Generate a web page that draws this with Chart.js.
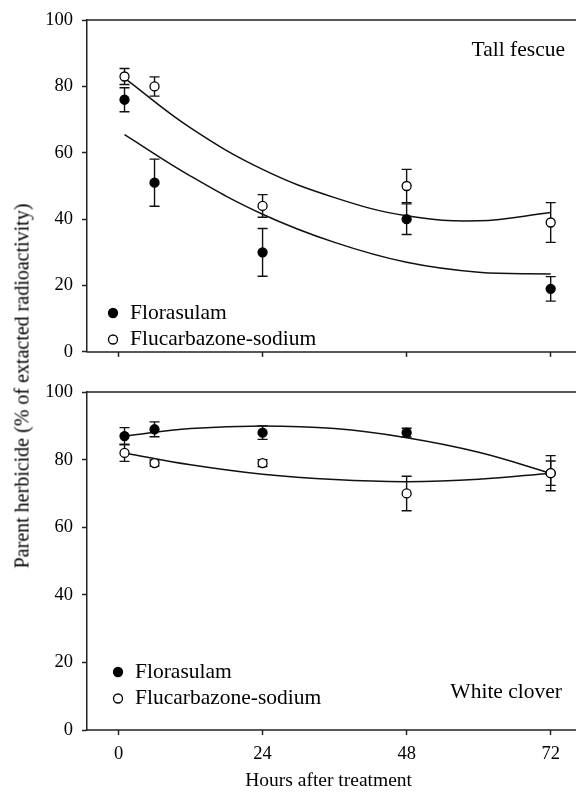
<!DOCTYPE html>
<html>
<head>
<meta charset="utf-8">
<script src="https://cdn.jsdelivr.net/npm/chart.js@4.4.1/dist/chart.umd.min.js"></script>
<style>
  body { margin: 0; background: #fff; }
  #wrap { position: relative; width: 576px; height: 793px; font-family: "Liberation Serif", serif; }
  canvas { position: absolute; left: 0; }
  #topChart { top: 0; }
  #bottomChart { top: 372px; }
  #ytitle {
    position: absolute; left: 22px; top: 386px;
    transform: translate(-50%, -50%) rotate(-90deg);
    white-space: nowrap; font-size: 20px; color: #000;
  }
</style>
</head>
<body>
<div id="wrap">
  <canvas id="topChart" width="576" height="372"></canvas>
  <canvas id="bottomChart" width="576" height="421"></canvas>
  <div id="ytitle">Parent herbicide (% of extacted radioactivity)</div>
</div>
<script>
const FONT = "'Liberation Serif', 'Times New Roman', serif";

// sampling times (h)
const hours = [1, 6, 24, 48, 72];
const xTicks = [0, 24, 48, 72];
const yTicks = [0, 20, 40, 60, 80, 100];

// Tall fescue
const fescueFlorasulam = [76, 51, 30, 40, 19];
const fescueFlorasulamErr = [3.6, 7.1, 7.2, 4.6, 3.7];
const fescueFlucarbazone = [83, 80, 44, 50, 39];
const fescueFlucarbazoneErr = [2.4, 2.9, 3.4, 5, 6];

// White clover
const cloverFlorasulam = [87, 89, 88, 88, 76];
const cloverFlorasulamErr = [2.5, 2.2, 2, 1.3, 3.6];
const cloverFlucarbazone = [82, 79, 79, 70, 76];
const cloverFlucarbazoneErr = [2.5, 0.9, 1, 5.1, 5.2];

// fitted curves
const fitHours = [1, 12, 24, 36, 48, 60, 72];
const fescueFlorasulamFit = [65.5, 53, 41.5, 33, 27, 24, 23.5];
const fescueFlucarbazoneFit = [82.5, 67.5, 55, 46.5, 41, 39.5, 42];
const cloverFlorasulamFit = [87, 89.2, 90, 89.2, 86.5, 82.2, 76];
const cloverFlucarbazoneFit = [82, 78.5, 75.7, 74.1, 73.5, 74.2, 76];

const pts = (xs, ys) => xs.map((x, i) => ({ x: x, y: ys[i] }));

function pointSet(label, values, errors, filled) {
  return {
    type: 'scatter',
    label: label,
    data: pts(hours, values),
    errors: errors,
    filled: filled,
    pointRadius: 4.5,
    pointHoverRadius: 4.5,
    pointBackgroundColor: filled ? '#000' : '#fff',
    pointBorderColor: '#000',
    pointBorderWidth: 1.3,
    order: filled ? 1 : 0
  };
}

function curveSet(values) {
  return {
    type: 'line',
    data: pts(fitHours, values),
    borderColor: '#111',
    borderWidth: 1.5,
    pointRadius: 0,
    tension: 0.4,
    fill: false,
    order: 3
  };
}

function makePanel(id, p) {
  const overlay = {
    id: 'overlay',
    beforeDatasetsDraw(chart) {
      const ctx = chart.ctx, xs = chart.scales.x, ys = chart.scales.y;
      ctx.save();
      ctx.strokeStyle = '#111';
      ctx.lineWidth = 1.4;
      chart.data.datasets.forEach(ds => {
        if (!ds.errors) return;
        ds.data.forEach((d, i) => {
          const px = xs.getPixelForValue(d.x);
          const t = ys.getPixelForValue(d.y + ds.errors[i]);
          const b = ys.getPixelForValue(d.y - ds.errors[i]);
          ctx.beginPath();
          ctx.moveTo(px, t); ctx.lineTo(px, b);
          ctx.moveTo(px - 5, t); ctx.lineTo(px + 5, t);
          ctx.moveTo(px - 5, b); ctx.lineTo(px + 5, b);
          ctx.stroke();
        });
      });
      ctx.restore();
    },
    afterDraw(chart) {
      const ctx = chart.ctx, a = chart.chartArea;
      ctx.save();
      // top frame line and x axis line, both running to the right edge
      ctx.strokeStyle = '#222';
      ctx.lineWidth = 1.5;
      ctx.beginPath();
      ctx.moveTo(a.left - 0.75, a.top);
      ctx.lineTo(chart.width, a.top);
      ctx.moveTo(a.left - 0.75, a.bottom);
      ctx.lineTo(chart.width, a.bottom);
      ctx.stroke();
      // panel name
      ctx.fillStyle = '#000';
      ctx.font = '21.5px ' + FONT;
      ctx.textBaseline = 'middle';
      ctx.textAlign = 'right';
      ctx.fillText(p.name, p.nameX, p.nameY);
      // legend
      ctx.textAlign = 'left';
      const items = chart.data.datasets.filter(ds => ds.errors);
      items.forEach((ds, i) => {
        const y = p.legendY + i * 26.5;
        ctx.beginPath();
        ctx.arc(p.legendX, y, 4.5, 0, Math.PI * 2);
        ctx.fillStyle = ds.filled ? '#000' : '#fff';
        ctx.fill();
        ctx.lineWidth = 1.3;
        ctx.strokeStyle = '#000';
        ctx.stroke();
        ctx.fillStyle = '#000';
        ctx.fillText(ds.label, p.legendX + 17, y);
      });
      ctx.restore();
    }
  };

  return new Chart(document.getElementById(id), {
    data: { datasets: p.datasets },
    plugins: [overlay],
    options: {
      responsive: false,
      animation: false,
      layout: { padding: { top: p.padTop, left: 0, right: 0, bottom: 0 } },
      plugins: { legend: { display: false }, tooltip: { enabled: false } },
      scales: {
        x: {
          type: 'linear',
          min: -5.25,
          max: 75.25,
          afterBuildTicks: s => { s.ticks = xTicks.map(v => ({ value: v })); },
          afterFit: s => { s.height = p.xHeight; },
          ticks: {
            display: p.showX,
            color: '#000',
            padding: 8,
            font: { family: FONT, size: 18.5 }
          },
          grid: { drawOnChartArea: false, drawTicks: true, tickLength: 5, tickWidth: 1.5, tickColor: '#222' },
          border: { display: false },
          title: {
            display: p.showX,
            text: 'Hours after treatment',
            color: '#000',
            padding: { top: 0, bottom: 0 },
            font: { family: FONT, size: 19.5 }
          }
        },
        y: {
          min: 0,
          max: 100,
          afterBuildTicks: s => { s.ticks = yTicks.map(v => ({ value: v })); },
          afterFit: s => { s.width = 87; },
          ticks: { color: '#000', padding: 9, font: { family: FONT, size: 18.5 } },
          grid: { drawOnChartArea: false, drawTicks: true, tickLength: 5, tickWidth: 1.5, tickColor: '#222' },
          border: { color: '#222', width: 1.5 }
        }
      }
    }
  });
}

makePanel('topChart', {
  name: 'Tall fescue', nameX: 565, nameY: 50,
  legendX: 113, legendY: 313,
  padTop: 15, xHeight: 12, showX: false,
  datasets: [
    pointSet('Florasulam', fescueFlorasulam, fescueFlorasulamErr, true),
    pointSet('Flucarbazone-sodium', fescueFlucarbazone, fescueFlucarbazoneErr, false),
    curveSet(fescueFlorasulamFit),
    curveSet(fescueFlucarbazoneFit)
  ]
});

makePanel('bottomChart', {
  name: 'White clover', nameX: 562, nameY: 320,
  legendX: 118, legendY: 300,
  padTop: 13, xHeight: 63, showX: true,
  datasets: [
    pointSet('Florasulam', cloverFlorasulam, cloverFlorasulamErr, true),
    pointSet('Flucarbazone-sodium', cloverFlucarbazone, cloverFlucarbazoneErr, false),
    curveSet(cloverFlorasulamFit),
    curveSet(cloverFlucarbazoneFit)
  ]
});
</script>
</body>
</html>
